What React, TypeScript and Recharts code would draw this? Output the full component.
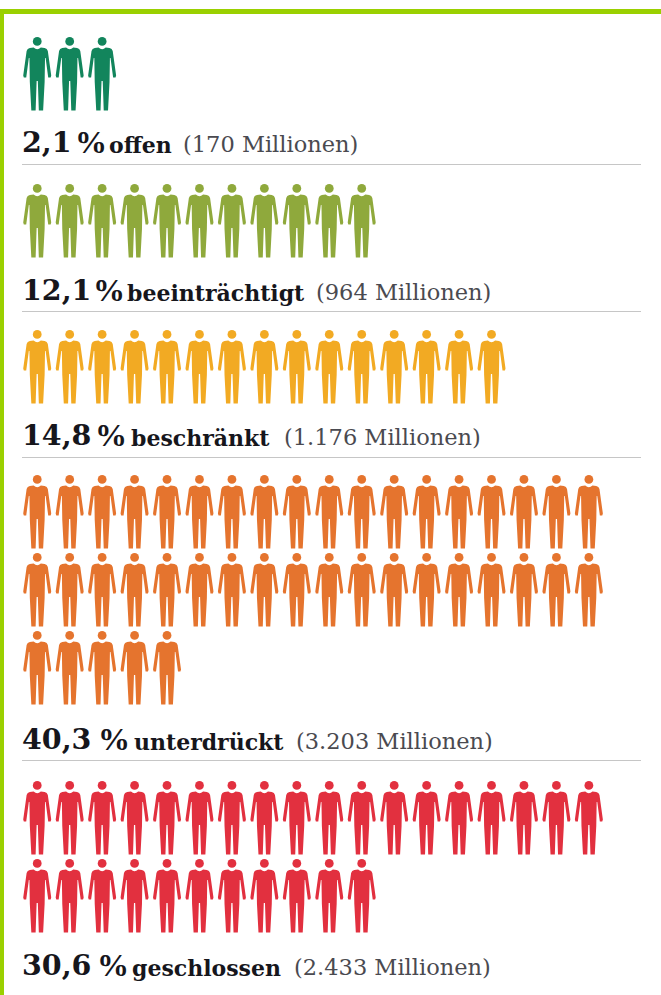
import { ScatterChart, Scatter, XAxis, YAxis } from "recharts";

// freedom status of the world population, one figure per percent
const categories = ["offen", "beeinträchtigt", "beschränkt", "unterdrückt", "geschlossen"];
const shares = [2.1, 12.1, 14.8, 40.3, 30.6];
const millions = [170, 964, 1176, 3203, 2433];
const figureCounts = [3, 11, 15, 41, 29];

const colors = ["#12855c", "#8fa93c", "#f2aa23", "#e5742e", "#e2303f"];
const groupTops = [35, 182, 328, 473, 779];
const captionBaselines = [149.5, 297.5, 442.5, 746.5, 972.5];
const percentLefts = [53, 71, 73, 76, 75];
const wordLefts = [87, 105, 109, 112, 110];
const totalLefts = [161, 294, 262, 274, 272];
const ruleTops = [164, 311, 457, 760];

const COLUMNS = 18;
const COLUMN_WIDTH = 32.45;
const ROW_HEIGHT = 78;

const BODY =
  "M-3.6 -26.4 Q0 -23 3.6 -26.4 L7.4 -26 Q10 -25.4 10.6 -23 L14 1.6 L13.4 3.4 L11 3.4 L8.4 -16 L7.8 -16 L7.4 8 L5.9 36.6 L1.6 36.6 L0.6 7 L-0.6 7 L-1.6 36.6 L-5.9 36.6 L-7.4 8 L-7.8 -16 L-8.4 -16 L-11 3.4 L-13.4 3.4 L-14 1.6 L-10.6 -23 Q-10 -25.4 -7.4 -26 Z";

function Person(props: any) {
  const { cx, cy, fill } = props;
  return (
    <g transform={`translate(${cx} ${cy})`} fill={fill}>
      <circle cx={0} cy={-32.6} r={4.4} />
      <path d={BODY} />
    </g>
  );
}

function FigureGroup({ index }: { index: number }) {
  const points = Array.from({ length: figureCounts[index] }, (_, i) => ({
    x: (i % COLUMNS) + 0.5,
    y: Math.floor(i / COLUMNS) + 0.5,
  }));
  const rows = Math.ceil(figureCounts[index] / COLUMNS);
  return (
    <div style={{ position: "absolute", left: 20.8, top: groupTops[index] }}>
      <ScatterChart
        width={COLUMNS * COLUMN_WIDTH}
        height={rows * ROW_HEIGHT}
        margin={{ top: 0, right: 0, bottom: 0, left: 0 }}
      >
        <XAxis type="number" dataKey="x" domain={[0, COLUMNS]} hide />
        <YAxis type="number" dataKey="y" domain={[0, rows]} reversed hide />
        <Scatter data={points} fill={colors[index]} shape={Person} isAnimationActive={false} />
      </ScatterChart>
    </div>
  );
}

function Caption({ index }: { index: number }) {
  const share = shares[index].toLocaleString("de-DE", { minimumFractionDigits: 1 });
  const total = millions[index].toLocaleString("de-DE");
  const part = (left: number, fontSize: number, fontWeight: number, color: string, family: string, text: string) => (
    <span
      style={{
        position: "absolute",
        left,
        bottom: 0,
        lineHeight: 1,
        fontSize,
        fontWeight,
        color,
        fontFamily: family,
        // drop the descender so the bottom edge sits on the baseline
        transform: `translateY(${fontSize * 0.26}px)`,
      }}
    >
      {text}
    </span>
  );
  return (
    <div
      style={{
        position: "absolute",
        left: 22,
        top: captionBaselines[index] - 30,
        height: 30,
        width: 620,
        whiteSpace: "nowrap",
      }}
    >
      {part(0, 28.5, 700, "#16161c", "'DejaVu Serif', serif", share)}
      {part(percentLefts[index], 32, 700, "#16161c", "'Liberation Serif', serif", "%")}
      {part(wordLefts[index], 22, 700, "#16161c", "'DejaVu Serif', serif", categories[index])}
      {part(totalLefts[index], 22.5, 400, "#4a4a50", "'DejaVu Serif', serif", `(${total} Millionen)`)}
    </div>
  );
}

export default function App() {
  return (
    <div
      style={{
        position: "absolute",
        left: 0,
        top: 0,
        width: 661,
        height: 995,
        background: "white",
        overflow: "hidden",
      }}
    >
      <div style={{ position: "absolute", left: 0, top: 8.5, width: 661, height: 5, background: "#9ad000" }} />
      <div style={{ position: "absolute", left: 0, top: 8.5, width: 3.5, height: 987, background: "#9ad000" }} />
      {categories.map((name, i) => (
        <div key={name}>
          <FigureGroup index={i} />
          <Caption index={i} />
        </div>
      ))}
      {ruleTops.map((top) => (
        <div
          key={top}
          style={{ position: "absolute", left: 22, top, width: 619, height: 1.4, background: "#c6c6c6" }}
        />
      ))}
    </div>
  );
}
